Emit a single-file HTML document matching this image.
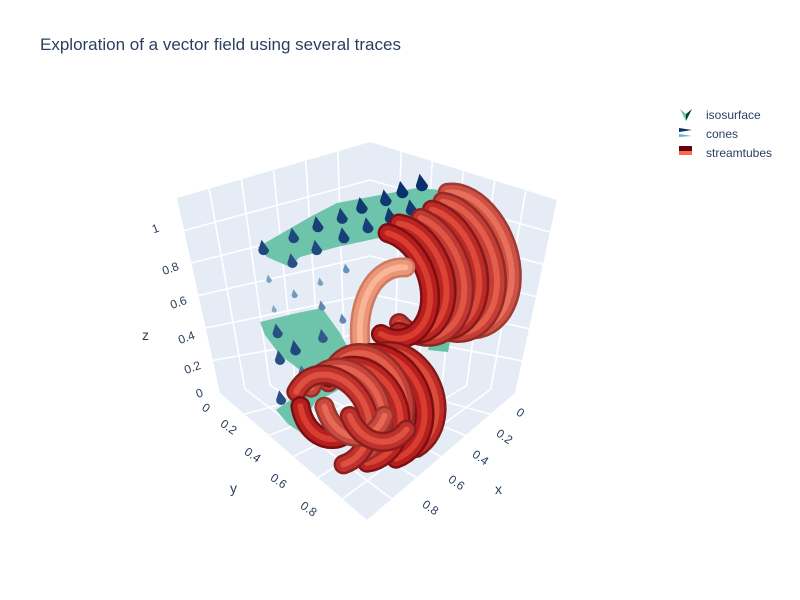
<!DOCTYPE html>
<html><head><meta charset="utf-8"><style>
body{margin:0;background:#fff;}
svg{display:block;font-family:"Liberation Sans",sans-serif;}
</style></head><body>
<svg id="chart" width="800" height="600" viewBox="0 0 800 600">
<text x="40" y="50" font-size="17" fill="#2a3f5f">Exploration of a vector field using several traces</text>
<g id="scene">
  <polygon points="370,142 177,198 220,393 370,370" fill="#e5ecf6"/>
  <polygon points="370,142 557,200 515,393 370,370" fill="#e5ecf6"/>
  <polygon points="370,370 220,393 367,520 515,393" fill="#e5ecf6"/>
  <g id="grid" stroke="#fff" stroke-width="1.6"></g>
  <path d="M258,247 L310,217 L337,203 L380,195 L417,188 L440,190 L430,210 L410,227 L383,237 L337,247 L300,257 L290,267 L267,257 Z" fill="#66c2a5" opacity="0.95"/>
  <path d="M260,322 L297,313 L322,308 L340,333 L352,355 L365,348 L385,358 L360,375 L335,392 L315,402 L305,420 L300,432 L288,424 L276,410 L300,393 L318,378 L300,370 L280,355 L265,335 Z" fill="#66c2a5" opacity="0.95"/>
  <path d="M420,268 L452,262 L445,282 L425,284 Z M430,340 L452,330 L448,352 L428,350 Z M365,350 L395,345 L390,362 Z" fill="#66c2a5"/>
  <g id="cones"></g>
  <g id="tubes"></g>
  <g font-size="12" fill="#2a3f5f">
    <text x="152" y="232" transform="rotate(-20 157 228)">1</text>
    <text x="162" y="272" transform="rotate(-20 172 268)">0.8</text>
    <text x="170" y="306" transform="rotate(-20 180 302)">0.6</text>
    <text x="178" y="341" transform="rotate(-20 188 337)">0.4</text>
    <text x="184" y="371" transform="rotate(-20 194 367)">0.2</text>
    <text x="196" y="397" transform="rotate(-20 200 393)">0</text>
  </g>
  <g font-size="12" fill="#2a3f5f">
    <text x="203" y="413" transform="rotate(35 208 408)">0</text>
    <text x="220" y="432" transform="rotate(35 230 428)">0.2</text>
    <text x="244" y="460" transform="rotate(35 254 456)">0.4</text>
    <text x="270" y="486" transform="rotate(35 280 482)">0.6</text>
    <text x="300" y="514" transform="rotate(35 310 510)">0.8</text>
  </g>
  <g font-size="12" fill="#2a3f5f">
    <text x="517" y="417" transform="rotate(35 521 413)">0</text>
    <text x="496" y="441" transform="rotate(35 505 437)">0.2</text>
    <text x="472" y="462" transform="rotate(35 481 458)">0.4</text>
    <text x="448" y="487" transform="rotate(35 457 483)">0.6</text>
    <text x="422" y="512" transform="rotate(35 431 508)">0.8</text>
  </g>
  <text x="142" y="340" font-size="14" fill="#2a3f5f">z</text>
  <text x="230" y="493" font-size="14" fill="#2a3f5f">y</text>
  <text x="495" y="494" font-size="14" fill="#2a3f5f">x</text>
</g>
<g>
  <g>
    <path d="M680,109 L686,121 L686,114 Z" fill="#66c2a5"/><path d="M686,121 L692,109 L686,114 Z" fill="#00441b"/>
    <text x="706" y="119" font-size="12" fill="#2a3f5f">isosurface</text>
  </g>
  <g>
    <path d="M679,128 L692,130 L679,132 Z" fill="#08306b"/><path d="M679,134 L692,136 L679,137 Z" fill="#6baed6"/>
    <text x="706" y="138" font-size="12" fill="#2a3f5f">cones</text>
  </g>
  <g>
    <rect x="679" y="146" width="13" height="5" fill="#67000d"/><rect x="679" y="151" width="13" height="4" fill="#fb6a4a"/>
    <text x="706" y="157" font-size="12" fill="#2a3f5f">streamtubes</text>
  </g>
</g>
</svg>
<script>
// cone data (data coords) and magnitudes
const coneX = [.05,.18,.31,.46,.62, .56,.75,.97, .08,.23,.40,.58,.79,1.0, .76,.85,.62,.38,.51,.30,.90,.78, .87,.77, .78,.97,.70, .89, .71,.94, .94];
const coneY = [.41,.41,.43,.42,.45, .22,.25,.27, .37,.38,.40,.42,.45,.50, .09,.36,.30,.23,.51,.43,.60,.79, .24,.61, .17,.49,.40, .30, .27,.56, .36];
const coneZ = [.92,.92,.92,.92,.92, .8,.8,.8, .8,.8,.8,.8,.8,.8, .55,.55,.55,.55,.55,.55,.55,.55, .45,.45, .3,.3,.3, .2, .1,.1, 0];
const coneMag = [1,1,.95,.95,.9, .9,.85,.85, .95,.95,.9,.9,.85,.8, .3,.35,.3,.4,.55,.55,.45,.5, .25,.45, .8,.85,.75, .8, .6,.7, .8];
// streamtube data: circle centers, radius, angle range (deg), colour shade
const tubeX = [.05,.12,.2,.28,.36,.44, .3, .6,.68,.76,.84,.92,1.0, .95,.8,.65];
const tubeY = [.70,.68,.66,.64,.62,.60, .62, .8,.78,.76,.8,.78,.76, .7,.72,.74];
const tubeZ = [.62,.6,.6,.58,.58,.56, .24, 0,-.02,.02,-.04,-.02,-.06, .02,.04,.02];
const tubeR = [.33,.32,.3,.3,.28,.27, .38, .28,.3,.27,.28,.26,.27, .2,.22,.24];
const tubeA0 = [110,100,95,90,100,95, 100, 160,150,165,140,155,150, -30,-20,-40];
const tubeA1 = [-100,-110,-90,-120,-100,-105, 190, -60,-70,-50,-80,-60,-70, -170,-160,-150];
const tubeShade = [.45,.3,.15,.25,.1,.05, 1, .15,.05,.3,.1,.35,.2, .05,.4,.2];

const NS='http://www.w3.org/2000/svg';
function project(x,y,z){
  const s=x+y;
  return [370-150*x+145*y, 370+23*s - z*(228-34*s)];
}
function lerp(a,b,t){return [a[0]+(b[0]-a[0])*t,a[1]+(b[1]-a[1])*t];}
function mix(c1,c2,t){return 'rgb('+c1.map((v,i)=>Math.round(v+(c2[i]-v)*t)).join(',')+')';}

// grid
const grid=document.getElementById('grid');
function line(p,q){const l=document.createElementNS(NS,'line');l.setAttribute('x1',p[0]);l.setAttribute('y1',p[1]);l.setAttribute('x2',q[0]);l.setAttribute('y2',q[1]);


grid.appendChild(l);}
const TB=[370,142],TL=[177,198],TR=[557,200],BB=[370,370],BL=[220,393],BR=[515,393],FR=[367,520];
for(let i=1;i<6;i++){const t=i/6;
  line(lerp(TB,TL,t),lerp(BB,BL,t)); line(lerp(TB,TR,t),lerp(BB,BR,t));
  line(lerp(TL,BL,t),lerp(TB,BB,t)); line(lerp(TR,BR,t),lerp(TB,BB,t));
  line(lerp(BB,BL,t),lerp(BR,FR,t)); line(lerp(BB,BR,t),lerp(BL,FR,t));
}

// cones
const cg=document.getElementById('cones');
coneX.forEach((x,i)=>{
  const [px,py]=project(x,coneY[i],coneZ[i]);
  const m=coneMag[i], r=1.5+4.5*m;
  const col=mix([170,210,230],[8,48,107],m);
  const p=document.createElementNS(NS,'path');
  p.setAttribute('d',`M${px-r},${py} A${r},${r} 0 1 0 ${px+r},${py} L${px-r*0.4},${py-r*1.9} Z`);
  p.setAttribute('fill',col);
  
  
  cg.appendChild(p);
});

// streamtubes
const tg=document.getElementById('tubes');
tubeX.forEach((x,i)=>{
  const pts=[];const n=30;
  for(let k=0;k<=n;k++){
    const a=(tubeA0[i]+(tubeA1[i]-tubeA0[i])*k/n)*Math.PI/180;
    pts.push(project(x,tubeY[i]+tubeR[i]*Math.cos(a),tubeZ[i]+tubeR[i]*Math.sin(a)));
  }
  const d='M'+pts.map(p=>p[0].toFixed(1)+','+p[1].toFixed(1)).join(' L');
  const g=document.createElementNS(NS,'g');
  
  
  const sh=tubeShade[i];
  [[20,mix([120,8,12],[205,120,95],sh)],[15,mix([180,24,26],[235,150,120],sh)],[6,mix([215,55,42],[250,180,150],sh)]].forEach(([w,c])=>{
    const p=document.createElementNS(NS,'path');
    p.setAttribute('d',d);p.setAttribute('fill','none');p.setAttribute('stroke',c);
    p.setAttribute('stroke-width',w);p.setAttribute('stroke-linecap','round');p.setAttribute('stroke-linejoin','round');
    
    
    g.appendChild(p);
  });
  tg.appendChild(g);
});
</script>
</body></html>
